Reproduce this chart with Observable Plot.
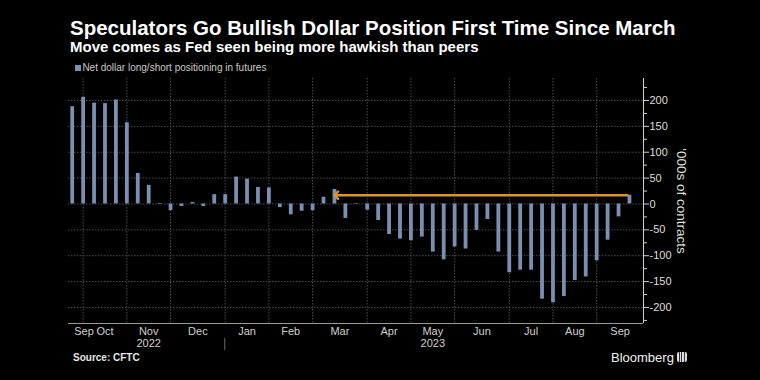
<!DOCTYPE html>
<html><head><meta charset="utf-8">
<script src="https://cdn.jsdelivr.net/npm/d3@7"></script>
<script src="https://cdn.jsdelivr.net/npm/@observablehq/plot@0.6"></script>
<style>
html,body{margin:0;padding:0;background:#000;}
#wrap{position:relative;width:760px;height:380px;background:#000;overflow:hidden;font-family:"Liberation Sans",Arial,sans-serif;}
.t{position:absolute;white-space:nowrap;line-height:1;}
#chart{position:absolute;left:0;top:72px;}
</style></head><body>
<div id="wrap">
<div id="chart"></div>
<div class="t" style="left:70px;top:17.8px;font-size:20.5px;font-weight:bold;color:#fff">Speculators Go Bullish Dollar Position First Time Since March</div>
<div class="t" style="left:70px;top:39px;font-size:15px;font-weight:bold;color:#fff">Move comes as Fed seen being more hawkish than peers</div>
<div class="t" style="left:75px;top:65px;width:5.5px;height:5.7px;background:#7b8fb0"></div>
<div class="t" style="left:82.4px;top:63px;font-size:10px;color:#c8c8c8">Net dollar long/short positioning in futures</div>
<div class="t" style="left:73px;top:353.2px;font-size:10px;font-weight:bold;color:#e6e6e6">Source: CFTC</div>
<div class="t" style="left:611px;top:350.7px;font-size:13px;color:#f0f0f0">Bloomberg</div>
<div class="t" style="left:677px;top:352px;width:10px;height:10px;border-radius:2px;background:linear-gradient(90deg,#ddd 0 2px,#333 2px 3px,#ddd 3px 4.5px,#333 4.5px 5.5px,#ddd 5.5px 7px,#333 7px 8px,#ddd 8px 10px)"></div>
</div>
<script>
// Weekly CFTC positioning (Friday release dates), '000s of contracts
const dates = [
  "2022-09-30","2022-10-07","2022-10-14","2022-10-21","2022-10-28",
  "2022-11-04","2022-11-11","2022-11-18","2022-11-25",
  "2022-12-02","2022-12-09","2022-12-16","2022-12-23","2022-12-30",
  "2023-01-06","2023-01-13","2023-01-20","2023-01-27",
  "2023-02-03","2023-02-10","2023-02-17","2023-02-24",
  "2023-03-03","2023-03-10","2023-03-17","2023-03-24","2023-03-31",
  "2023-04-07","2023-04-14","2023-04-21","2023-04-28",
  "2023-05-05","2023-05-12","2023-05-19","2023-05-26",
  "2023-06-02","2023-06-09","2023-06-16","2023-06-23","2023-06-30",
  "2023-07-07","2023-07-14","2023-07-21","2023-07-28",
  "2023-08-04","2023-08-11","2023-08-18","2023-08-25",
  "2023-09-01","2023-09-08","2023-09-15","2023-09-22"
];
const values = [
  188, 206, 195, 194, 201, 157, 59, 36,
  -1, -13, -5, 3, -5, 18, 18, 52,
  48, 32, 31, -7, -21, -14, -13, 13,
  28, -28, -1, -12, -32, -59, -68, -71,
  -64, -93, -108, -83, -87, -51, -30, -93,
  -133, -128, -128, -184, -191, -179, -148, -141,
  -110, -70, -25, 17
];
const monthLabels = ["Sep","Oct","Nov","Dec","Jan","Feb","Mar","Apr","May","Jun","Jul","Aug","Sep"];
const yearLabels = ["2022","2023"];
const yearUnderMonth = [2, 8];
const majorTicks = [-200,-150,-100,-50,0,50,100,150,200];
const minorTicks = [-225,-175,-125,-75,-25,25,75,125,175,225];
const yLabel = "'000s of contracts";
const arrowFromIndex = 51, arrowToIndex = 24;

const xStart = new Date("2022-09-27T15:00:00Z");
const xEnd = new Date("2023-10-01T00:00:00Z");
const yDomain = [-231, 242.5];

const barColor = "#7b8fb0";
const orange = "#d8952f";
const gridColor = "#4c4c4c";

const parse = d3.utcParse("%Y-%m-%d");
const data = dates.map((d, i) => ({date: parse(d), value: values[i]}));

// first weekly bar of each month -> month ticks
const monthStarts = [];
data.forEach((d, i) => {
  if (i > 0 && d.date.getUTCMonth() !== data[i - 1].date.getUTCMonth()) monthStarts.push(d.date);
});
const bounds = [...monthStarts, xEnd];
const labelData = monthLabels.map((m, k) => {
  if (k === 0) return {label: m, x: data[0].date};
  const a = bounds[k - 1], b = bounds[k];
  return {label: m, x: new Date((+a + +b) / 2)};
});
const yearData = yearLabels.map((y, k) => ({label: y, x: labelData[yearUnderMonth[k]].x}));
const janTick = monthStarts.find(d => d.getUTCMonth() === 0);

const arrowData = [{
  x1: data[arrowFromIndex].date, x2: data[arrowToIndex].date,
  y: values[arrowFromIndex]
}];

const chart = Plot.plot({
  width: 760, height: 280,
  marginTop: 6, marginBottom: 29, marginLeft: 68, marginRight: 117,
  style: {background: "#000", color: "#ddd", fontFamily: "Liberation Sans, Arial, sans-serif", fontSize: "11px", overflow: "visible"},
  x: {type: "utc", domain: [xStart, xEnd], axis: null},
  y: {domain: yDomain},
  marks: [
    Plot.gridY(majorTicks, {stroke: gridColor, strokeOpacity: 1, strokeDasharray: "1.5,1.5"}),
    Plot.gridX(monthStarts, {stroke: gridColor, strokeOpacity: 1, strokeDasharray: "1.5,1.5"}),
    Plot.ruleY([yDomain[0]], {stroke: "#9a9a9a"}),
    Plot.ruleX([xEnd], {stroke: "#cfcfcf"}),
    Plot.ruleX(data, {x: "date", y1: 0, y2: "value", stroke: barColor, strokeWidth: 3.8}),
    Plot.arrow(arrowData, {x1: "x1", x2: "x2", y1: "y", y2: "y", stroke: orange, strokeWidth: 2.4,
      strokeDasharray: "1,1", headLength: 3.2, headAngle: 90, insetStart: 2}),
    Plot.axisY(minorTicks, {anchor: "right", tickSize: 3, tickFormat: () => "", stroke: "#cfcfcf"}),
    Plot.axisY(majorTicks, {anchor: "right", tickSize: 5, tickPadding: 1, tickFormat: d => String(d),
      stroke: "#cfcfcf", fill: "#dedede", fontSize: 11}),
    Plot.text([yLabel], {frameAnchor: "right", textAnchor: "middle", lineAnchor: "middle", dx: 38, rotate: 90, fontSize: 13.5, fill: "#dedede"}),
    Plot.text(labelData.slice(0, 1), {x: "x", text: "label", frameAnchor: "bottom", lineAnchor: "top", dy: 4, dx: 2, textAnchor: "start", fill: "#cfcfcf"}),
    Plot.text(labelData.slice(1), {x: "x", text: "label", frameAnchor: "bottom", lineAnchor: "top", dy: 4, fill: "#cfcfcf"}),
    Plot.text(yearData, {x: "x", text: "label", frameAnchor: "bottom", lineAnchor: "top", dy: 16, fill: "#cfcfcf"}),
    (index, scales, values, dims) => {
      const x = scales.x(janTick);
      const y0 = dims.height - dims.marginBottom;
      return d3.create("svg:line").attr("x1", x).attr("x2", x)
        .attr("y1", y0 + 15).attr("y2", y0 + 27).attr("stroke", "#666").node();
    }
  ]
});
document.getElementById("chart").appendChild(chart);
</script>
</body></html>
